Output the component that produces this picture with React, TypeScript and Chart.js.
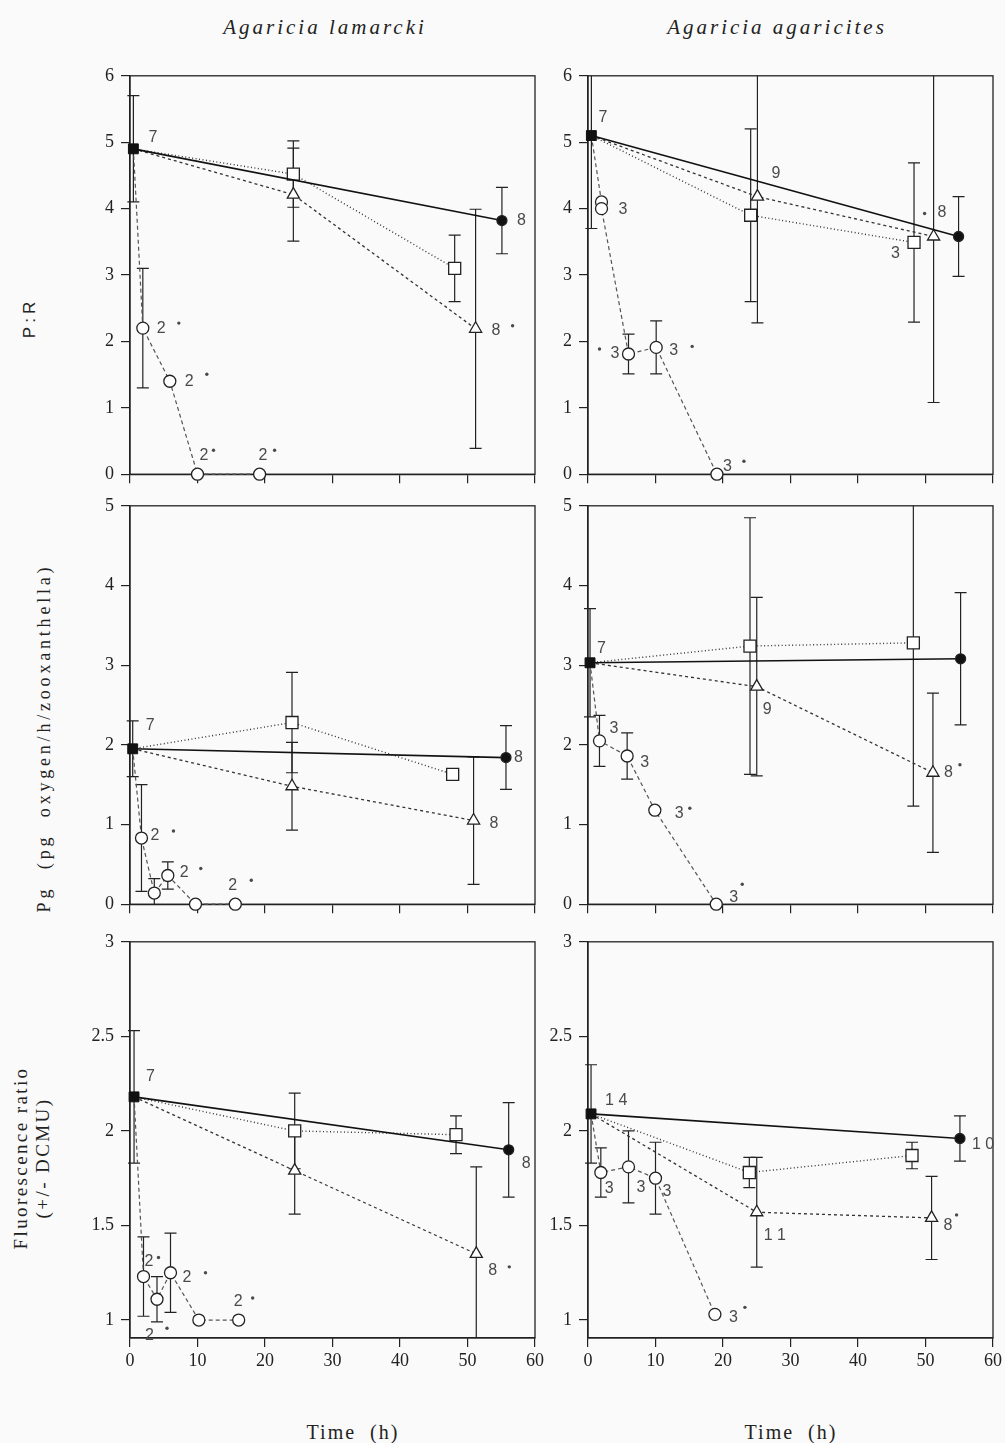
import React, { useEffect, useRef } from "react";
import { Chart, registerables } from "chart.js";

Chart.register(...registerables);

type Pt = [number, number, number]; // [time (h), mean, error]
type Note = [string, number, string, number, number, number?, number?];

// ---------- tick values ----------
const X_TICKS = [0, 10, 20, 30, 40, 50, 60];
const PR_TICKS = [0, 1, 2, 3, 4, 5, 6];
const PG_TICKS = [0, 1, 2, 3, 4, 5];
const FL_TICKS = [1, 1.5, 2, 2.5, 3];

// ---------- Agaricia lamarcki : P:R ----------
const lamPR_start: Pt = [0.5, 4.9, 0.8];
const lamPR_control: Pt[] = [[55.1, 3.82, 0.5]];
const lamPR_squares: Pt[] = [[24.2, 4.52, 0.5], [48.1, 3.1, 0.5]];
const lamPR_triangles: Pt[] = [[24.2, 4.21, 0.7], [51.2, 2.19, 1.8]];
const lamPR_circles: Pt[] = [[1.9, 2.2, 0.9], [5.9, 1.4, 0], [10, 0, 0], [19.2, 0, 0]];

// ---------- Agaricia agaricites : P:R ----------
const agaPR_start: Pt = [0.5, 5.1, 1.4];
const agaPR_control: Pt[] = [[54.9, 3.58, 0.6]];
const agaPR_squares: Pt[] = [[24.1, 3.9, 1.3], [48.3, 3.49, 1.2]];
const agaPR_triangles: Pt[] = [[25.1, 4.18, 1.9], [51.2, 3.58, 2.5]];
const agaPR_circles: Pt[] = [[2.0, 4.1, 0], [2.0, 4.0, 0], [6.0, 1.81, 0.3], [10.1, 1.91, 0.4], [19.1, 0, 0]];

// ---------- Agaricia lamarcki : Pg ----------
const lamPG_start: Pt = [0.4, 1.95, 0.35];
const lamPG_control: Pt[] = [[55.7, 1.84, 0.4]];
const lamPG_squares: Pt[] = [[24.0, 2.28, 0.63], [47.8, 1.63, 0]];
const lamPG_triangles: Pt[] = [[24.0, 1.48, 0.55], [50.9, 1.05, 0.8]];
const lamPG_circles: Pt[] = [[1.7, 0.83, 0.67], [3.6, 0.14, 0.18], [5.6, 0.36, 0.17], [9.7, 0, 0], [15.6, 0, 0]];

// ---------- Agaricia agaricites : Pg ----------
const agaPG_start: Pt = [0.3, 3.03, 0.68];
const agaPG_control: Pt[] = [[55.2, 3.08, 0.83]];
const agaPG_squares: Pt[] = [[24.0, 3.24, 1.61], [48.2, 3.28, 2.05]];
const agaPG_triangles: Pt[] = [[25.0, 2.73, 1.12], [51.1, 1.65, 1.0]];
const agaPG_circles: Pt[] = [[1.7, 2.05, 0.32], [5.8, 1.86, 0.29], [9.9, 1.18, 0], [19.0, 0, 0]];

// ---------- Agaricia lamarcki : fluorescence ratio ----------
const lamFL_start: Pt = [0.6, 2.18, 0.35];
const lamFL_control: Pt[] = [[56.1, 1.9, 0.25]];
const lamFL_squares: Pt[] = [[24.4, 2.0, 0.2], [48.3, 1.98, 0.1]];
const lamFL_triangles: Pt[] = [[24.4, 1.79, 0.23], [51.3, 1.35, 0.46]];
const lamFL_circles: Pt[] = [[2.0, 1.23, 0.21], [4.0, 1.11, 0.12], [6.0, 1.25, 0.21], [10.2, 1.0, 0], [16.1, 1.0, 0]];

// ---------- Agaricia agaricites : fluorescence ratio ----------
const agaFL_start: Pt = [0.45, 2.09, 0.26];
const agaFL_control: Pt[] = [[55.1, 1.96, 0.12]];
const agaFL_squares: Pt[] = [[23.9, 1.78, 0.08], [48.0, 1.87, 0.07]];
const agaFL_triangles: Pt[] = [[25.0, 1.57, 0.29], [50.9, 1.54, 0.22]];
const agaFL_circles: Pt[] = [[1.9, 1.78, 0.13], [6.0, 1.81, 0.19], [10.0, 1.75, 0.19], [18.8, 1.03, 0]];

// ---------- sample-size notes: [series, index, text, dx, dy, dotDx, dotDy] ----------
const lamPR_notes: Note[] = [
  ["s", 0, "7", 15, -11], ["c", 0, "8", 15, 0], ["t", 1, "8", 16, 2, 37, -3],
  ["o", 0, "2", 14, 0, 36, -5], ["o", 1, "2", 15, 0, 37, -7],
  ["o", 2, "2", 2, -19, 16, -24], ["o", 3, "2", -1, -19, 15, -24],
];
const agaPR_notes: Note[] = [
  ["s", 0, "7", 7, -18], ["o", 1, "3", 17, 1], ["o", 2, "3", -18, 0, -29, -5],
  ["o", 3, "3", 13, 3, 36, -1], ["o", 4, "3", 6, -8, 27, -13],
  ["t", 0, "9", 14, -23], ["q", 1, "3", -23, 11], ["t", 1, "8", 4, -24, -9, -23],
];
const lamPG_notes: Note[] = [
  ["s", 0, "7", 13, -23], ["o", 0, "2", 9, -2, 32, -7], ["o", 2, "2", 12, -3, 33, -7],
  ["o", 4, "2", -7, -19, 16, -24], ["t", 1, "8", 16, 3], ["c", 0, "8", 8, 0],
];
const agaPG_notes: Note[] = [
  ["s", 0, "7", 7, -14], ["o", 0, "3", 10, -12], ["o", 1, "3", 13, 7],
  ["o", 2, "3", 20, 3, 35, -2], ["o", 3, "3", 13, -7, 26, -20],
  ["t", 0, "9", 6, 23], ["t", 1, "8", 11, 0, 27, -8],
];
const lamFL_notes: Note[] = [
  ["s", 0, "7", 12, -20], ["o", 0, "2", 1, -15, 15, -19], ["o", 1, "2", -12, 36, 10, 29],
  ["o", 2, "2", 12, 5, 35, 0], ["o", 4, "2", -5, -18, 14, -22],
  ["t", 1, "8", 12, 17, 33, 13], ["c", 0, "8", 13, 14],
];
const agaFL_notes: Note[] = [
  ["s", 0, "1 4", 14, -13], ["o", 0, "3", 4, 16], ["o", 1, "3", 8, 21], ["o", 2, "3", 7, 13],
  ["o", 3, "3", 14, 3, 30, -7], ["t", 0, "1 1", 7, 23], ["t", 1, "8", 12, 8, 25, -3],
  ["c", 0, "1 0", 12, 6],
];

// ---------- layout ----------
const COL_L = [130, 588];
const COL_R = [535, 993];
const ROW_T = [73, 503, 939];
const ROW_B = [478, 908, 1338];

type PanelCfg = {
  col: number; row: number; yMin: number; yMax: number; yTicks: number[];
  start: Pt; control: Pt[]; squares: Pt[]; triangles: Pt[]; circles: Pt[]; notes: Note[];
};

const PANELS: PanelCfg[] = [
  { col: 0, row: 0, yMin: 0, yMax: 6, yTicks: PR_TICKS, start: lamPR_start, control: lamPR_control, squares: lamPR_squares, triangles: lamPR_triangles, circles: lamPR_circles, notes: lamPR_notes },
  { col: 1, row: 0, yMin: 0, yMax: 6, yTicks: PR_TICKS, start: agaPR_start, control: agaPR_control, squares: agaPR_squares, triangles: agaPR_triangles, circles: agaPR_circles, notes: agaPR_notes },
  { col: 0, row: 1, yMin: 0, yMax: 5, yTicks: PG_TICKS, start: lamPG_start, control: lamPG_control, squares: lamPG_squares, triangles: lamPG_triangles, circles: lamPG_circles, notes: lamPG_notes },
  { col: 1, row: 1, yMin: 0, yMax: 5, yTicks: PG_TICKS, start: agaPG_start, control: agaPG_control, squares: agaPG_squares, triangles: agaPG_triangles, circles: agaPG_circles, notes: agaPG_notes },
  { col: 0, row: 2, yMin: 0.905, yMax: 3, yTicks: FL_TICKS, start: lamFL_start, control: lamFL_control, squares: lamFL_squares, triangles: lamFL_triangles, circles: lamFL_circles, notes: lamFL_notes },
  { col: 1, row: 2, yMin: 0.905, yMax: 3, yTicks: FL_TICKS, start: agaFL_start, control: agaFL_control, squares: agaFL_squares, triangles: agaFL_triangles, circles: agaFL_circles, notes: agaFL_notes },
];

const INK = "#222";
const SERIF = '"Liberation Serif", "DejaVu Serif", serif';
const SANS = '"Liberation Sans", Arial, sans-serif';
const AXIS_W = 60;
const PAD_T = 15;

function toXY(start: Pt, pts: Pt[]) {
  return [start, ...pts].map((p) => ({ x: p[0], y: p[1] }));
}

function Panel({ cfg }: { cfg: PanelCfg }) {
  const ref = useRef<HTMLCanvasElement | null>(null);
  const L = COL_L[cfg.col], R = COL_R[cfg.col], T = ROW_T[cfg.row], B = ROW_B[cfg.row];
  const padR = cfg.col === 0 ? 25 : 12;
  const xH = cfg.row === 2 ? 40 : 14;
  const w = R - L + AXIS_W + padR;
  const h = B - T + PAD_T + xH;

  useEffect(() => {
    const canvas = ref.current;
    if (!canvas) return;
    const series: Record<string, Pt[]> = {
      s: [cfg.start], c: cfg.control, q: cfg.squares, t: cfg.triangles, o: cfg.circles,
    };
    const hideFirst = (r: number) => (ctx: any) => (ctx.dataIndex === 0 ? 0 : r);

    const framePlugin = {
      id: "frameAndErrors",
      beforeDatasetsDraw(chart: any) {
        const { ctx, chartArea: a } = chart;
        const xs = chart.scales.x, ys = chart.scales.y;
        ctx.save();
        ctx.strokeStyle = INK;
        ctx.lineWidth = 1.3;
        ctx.strokeRect(a.left, a.top, a.right - a.left, a.bottom - a.top);
        ctx.beginPath();
        ctx.rect(a.left - 8, a.top, a.right - a.left + 16, a.bottom - a.top);
        ctx.clip();
        ctx.lineWidth = 1.2;
        const all = [cfg.start, ...cfg.control, ...cfg.squares, ...cfg.triangles, ...cfg.circles];
        for (const p of all) {
          if (!p[2]) continue;
          const px = xs.getPixelForValue(p[0]);
          const y1 = ys.getPixelForValue(p[1] + p[2]);
          const y2 = ys.getPixelForValue(p[1] - p[2]);
          ctx.beginPath();
          ctx.moveTo(px, y1); ctx.lineTo(px, y2);
          ctx.moveTo(px - 6, y1); ctx.lineTo(px + 6, y1);
          ctx.moveTo(px - 6, y2); ctx.lineTo(px + 6, y2);
          ctx.stroke();
        }
        ctx.restore();
      },
      afterDatasetsDraw(chart: any) {
        const { ctx } = chart;
        const xs = chart.scales.x, ys = chart.scales.y;
        ctx.save();
        ctx.font = `16px ${SANS}`;
        ctx.fillStyle = "#4a4a4a";
        ctx.textAlign = "left";
        ctx.textBaseline = "middle";
        for (const n of cfg.notes) {
          const p = series[n[0]][n[1]];
          const px = xs.getPixelForValue(p[0]);
          const py = ys.getPixelForValue(p[1]);
          ctx.fillText(n[2], px + n[3], py + n[4]);
          if (n[5] !== undefined && n[6] !== undefined) {
            ctx.beginPath();
            ctx.arc(px + n[5], py + n[6], 1.7, 0, Math.PI * 2);
            ctx.fill();
          }
        }
        ctx.restore();
      },
    };

    const common = { showLine: true, clip: false as any, tension: 0, pointBorderColor: INK, pointBorderWidth: 1.3, pointBackgroundColor: "#fff" };

    const chart = new Chart(canvas, {
      type: "scatter",
      data: {
        datasets: [
          {
            data: toXY(cfg.start, []), showLine: false, clip: false as any,
            pointStyle: "rect", pointRadius: 7, pointBackgroundColor: "#111", pointBorderColor: "#111", pointBorderWidth: 1,
          } as any,
          {
            ...common, data: toXY(cfg.start, cfg.control), borderColor: "#111", borderWidth: 1.6,
            pointStyle: "circle", pointRadius: hideFirst(5), pointBackgroundColor: "#111",
          },
          {
            ...common, data: toXY(cfg.start, cfg.squares), borderColor: "#333", borderWidth: 1.4, borderDash: [1, 2.5],
            pointStyle: "rect", pointRadius: hideFirst(8.5),
          },
          {
            ...common, data: toXY(cfg.start, cfg.triangles), borderColor: "#333", borderWidth: 1.3, borderDash: [3, 3],
            pointStyle: "triangle", pointRadius: hideFirst(7),
          },
          {
            ...common, data: toXY(cfg.start, cfg.circles), borderColor: "#555", borderWidth: 1.2, borderDash: [4, 3],
            pointStyle: "circle", pointRadius: hideFirst(6),
          },
        ],
      },
      options: {
        responsive: false,
        animation: false,
        devicePixelRatio: 1,
        events: [],
        layout: { padding: { left: 0, top: PAD_T, right: padR, bottom: 0 } },
        plugins: { legend: { display: false }, tooltip: { enabled: false } },
        scales: {
          x: {
            type: "linear", min: 0, max: 60,
            afterBuildTicks: (s: any) => { s.ticks = X_TICKS.map((v) => ({ value: v })); },
            afterFit: (s: any) => { s.height = xH; },
            ticks: {
              display: cfg.row === 2, autoSkip: false, maxRotation: 0, padding: 3, color: INK,
              font: { family: SERIF, size: 18 }, callback: (v: any) => String(v),
            },
            grid: { drawOnChartArea: false, drawTicks: true, tickLength: 9, color: INK, lineWidth: 1.2 },
            border: { display: true, color: INK, width: 1.3 },
          },
          y: {
            type: "linear", min: cfg.yMin, max: cfg.yMax,
            afterBuildTicks: (s: any) => { s.ticks = cfg.yTicks.map((v) => ({ value: v })); },
            afterFit: (s: any) => { s.width = AXIS_W; },
            ticks: {
              autoSkip: false, padding: 7, color: INK,
              font: { family: SERIF, size: 18 }, callback: (v: any) => String(v),
            },
            grid: { drawOnChartArea: false, drawTicks: true, tickLength: 9, color: INK, lineWidth: 1.2 },
            border: { display: true, color: INK, width: 1.3 },
          },
        },
      },
      plugins: [framePlugin],
    } as any);
    return () => chart.destroy();
  }, []);

  return (
    <canvas
      ref={ref}
      width={w}
      height={h}
      style={{ position: "absolute", left: L - AXIS_W, top: T - PAD_T, width: w, height: h }}
    />
  );
}

function Label(props: { x: number; y: number; text: string; rotate?: boolean; font: string; size: number; italic?: boolean; spacing?: number }) {
  const { x, y, text, rotate, font, size, italic, spacing } = props;
  return (
    <div
      style={{
        position: "absolute", left: x, top: y,
        transform: `translate(-50%, -50%)${rotate ? " rotate(-90deg)" : ""}`,
        fontFamily: font, fontSize: size, fontStyle: italic ? "italic" : "normal",
        letterSpacing: spacing ?? 0, whiteSpace: "pre", color: INK, lineHeight: 1,
      }}
    >
      {text}
    </div>
  );
}

export default function App() {
  return (
    <div style={{ position: "absolute", left: 0, top: 0, width: 1005, height: 1443, overflow: "hidden", background: "#fafafa" }}>
      <Label x={325} y={27} text="Agaricia lamarcki" font={SERIF} size={21} italic spacing={3} />
      <Label x={777} y={27} text="Agaricia agaricites" font={SERIF} size={21} italic spacing={3} />
      <Label x={29} y={318} text="P:R" font={SANS} size={17} rotate spacing={4} />
      <Label x={44} y={738} text="Pg  (pg  oxygen/h/zooxanthella)" font={SERIF} size={18} rotate spacing={3.8} />
      <Label x={20} y={1158} text="Fluorescence ratio" font={SERIF} size={19} rotate spacing={2.4} />
      <Label x={42} y={1158} text="(+/- DCMU)" font={SERIF} size={19} rotate spacing={2.4} />
      <Label x={353} y={1432} text="Time  (h)" font={SERIF} size={20} spacing={2} />
      <Label x={791} y={1432} text="Time  (h)" font={SERIF} size={20} spacing={2} />
      {PANELS.map((p, i) => (
        <Panel key={i} cfg={p} />
      ))}
    </div>
  );
}
